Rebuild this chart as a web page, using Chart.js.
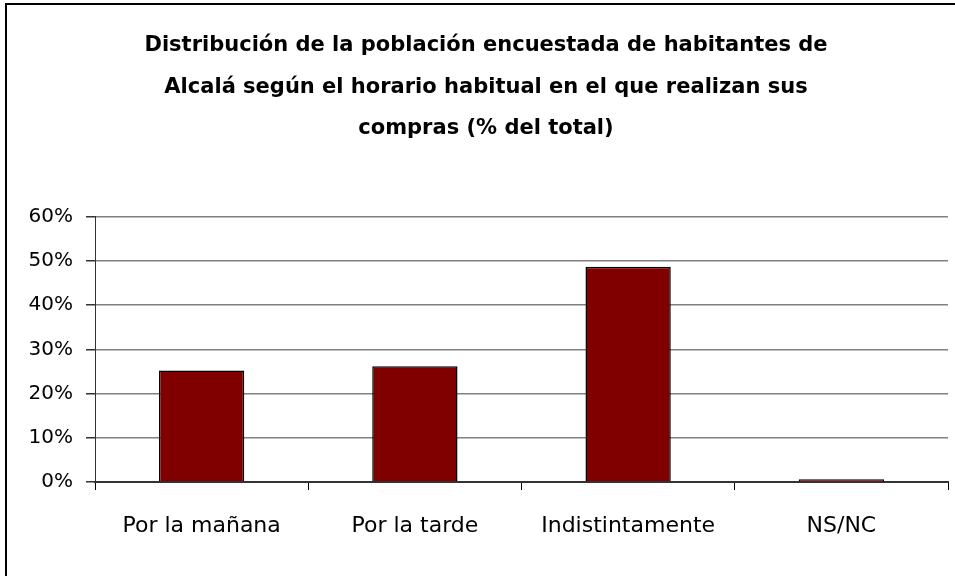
<!DOCTYPE html>
<html>
<head>
<meta charset="utf-8">
<script src="https://cdn.jsdelivr.net/npm/chart.js@4/dist/chart.umd.min.js"></script>
<style>
  html, body { margin: 0; padding: 0; background: #fff; overflow: hidden; }
  #wrap { position: relative; width: 955px; height: 576px; }
  #frame { position: absolute; left: 5px; top: 3px; width: 980px; height: 600px; border: 2px solid #000; box-sizing: border-box; pointer-events: none; }
</style>
</head>
<body>
<div id="wrap">
  <canvas id="chart"></canvas>
  <div id="frame"></div>
</div>
<script>
const categories = ['Por la mañana', 'Por la tarde', 'Indistintamente', 'NS/NC']
const values = [25.2, 26.2, 48.7, 0.6]
const yTicks = [0, 10, 20, 30, 40, 50, 60]
const titleLines = [
    'Distribución de la población encuestada de habitantes de',
    'Alcalá según el horario habitual en el que realizan sus',
    'compras (% del total)'
]

const FONT = "'DejaVu Sans', sans-serif"

new Chart(document.getElementById('chart'), {
    type: 'bar',
    data: {
        labels: categories,
        datasets: [{
            data: values,
            backgroundColor: '#800000',
            borderColor: '#000',
            borderWidth: 1.5,
            barPercentage: 0.4,
            categoryPercentage: 1
        }]
    },
    options: {
        responsive: true,
        maintainAspectRatio: false,
        animation: false,
        layout: { padding: { left: 24, right: 7, top: 0, bottom: 0 } },
        plugins: {
            legend: { display: false },
            tooltip: { enabled: false },
            title: {
                display: true,
                text: titleLines,
                color: '#000',
                font: { family: FONT, size: 21, weight: 'bold', lineHeight: 1.98 },
                padding: { top: 25, bottom: 67 }
            }
        },
        scales: {
            x: {
                grid: {
                    offset: true,
                    drawOnChartArea: true,
                    color: c => c.index === categories.length ? '#808080' : 'rgba(0,0,0,0)',
                    tickColor: '#000',
                    tickLength: 8
                },
                border: { color: '#333', width: 2 },
                ticks: { color: '#000', font: { family: FONT, size: 22 }, padding: 23, maxRotation: 0 },
                afterFit: s => { s.height = 94 }
            },
            y: {
                min: yTicks[0],
                max: yTicks[yTicks.length - 1],
                afterBuildTicks: s => { s.ticks = yTicks.map(v => ({ value: v })) },
                grid: { color: '#808080', lineWidth: 1.5, tickColor: '#333', tickLength: 9 },
                border: { color: '#333', width: 1 },
                ticks: {
                    color: '#000',
                    font: { family: FONT, size: 20 },
                    padding: 13,
                    callback: v => v + '%'
                },
                afterFit: s => { s.width = 71 }
            }
        }
    }
})
</script>
</body>
</html>
